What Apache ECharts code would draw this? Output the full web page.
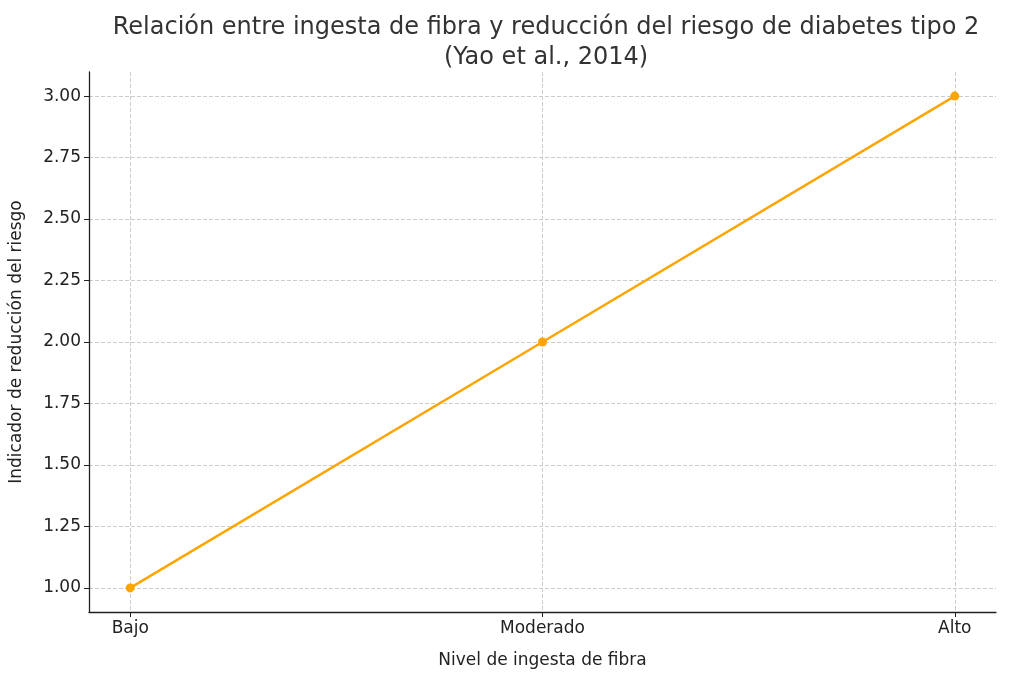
<!DOCTYPE html>
<html><head><meta charset="utf-8">
<script src="https://cdn.jsdelivr.net/npm/echarts@6/dist/echarts.min.js"></script>
<style>html,body{margin:0;padding:0;background:#fff}#c{width:1024px;height:675px}</style>
</head><body><div id="c"></div>
<script>
const categories = ['Bajo', 'Moderado', 'Alto'];
const values = [1.0, 2.0, 3.0];
const yTicks = [1.0, 1.25, 1.5, 1.75, 2.0, 2.25, 2.5, 2.75, 3.0];
const xTicks = [0, 1, 2];
const font = 'DejaVu Sans';
const chart = echarts.init(document.getElementById('c'));
chart.setOption({
  animation: false,
  textStyle: {fontFamily: font},
  title: {text: 'Relación entre ingesta de fibra y reducción del riesgo de diabetes tipo 2\n(Yao et al., 2014)',
    left: 541, top: 8, textAlign: 'center',
    textStyle: {fontFamily: font, fontSize: 24, fontWeight: 'normal', color: '#333', lineHeight: 30}},
  grid: {left: 88, right: 28, top: 72, bottom: 63},
  xAxis: {type: 'value', min: -0.1, max: 2.1,
    name: 'Nivel de ingesta de fibra', nameLocation: 'middle', nameGap: 40,
    nameTextStyle: {fontFamily: font, fontSize: 17, color: '#222'},
    axisLine: {show: true, onZero: false, lineStyle: {color: '#222', width: 1.3}},
    axisTick: {show: true, customValues: xTicks, length: 5, lineStyle: {color: '#222'}},
    axisLabel: {customValues: xTicks, formatter: v => categories[Math.round(v)], fontSize: 17, color: '#222', margin: 8},
    splitLine: {show: true, lineStyle: {color: '#ccc', type: 'dashed'}}},
  yAxis: {type: 'value', min: 0.902, max: 3.098,
    name: 'Indicador de reducción del riesgo', nameLocation: 'middle', nameGap: 64,
    nameTextStyle: {fontFamily: font, fontSize: 17, color: '#222'},
    axisLine: {show: true, onZero: false, lineStyle: {color: '#222', width: 1.3}},
    axisTick: {show: true, customValues: yTicks, length: 5, lineStyle: {color: '#222'}},
    axisLabel: {customValues: yTicks, formatter: v => v.toFixed(2), fontSize: 17, color: '#222', margin: 8},
    splitLine: {show: true, lineStyle: {color: '#ccc', type: 'dashed'}}},
  series: [{type: 'line', data: values.map((v, i) => [i, v]),
    symbol: 'circle', symbolSize: 9,
    lineStyle: {color: '#FFA500', width: 2.5}, itemStyle: {color: '#FFA500'}}]
});
</script></body></html>
